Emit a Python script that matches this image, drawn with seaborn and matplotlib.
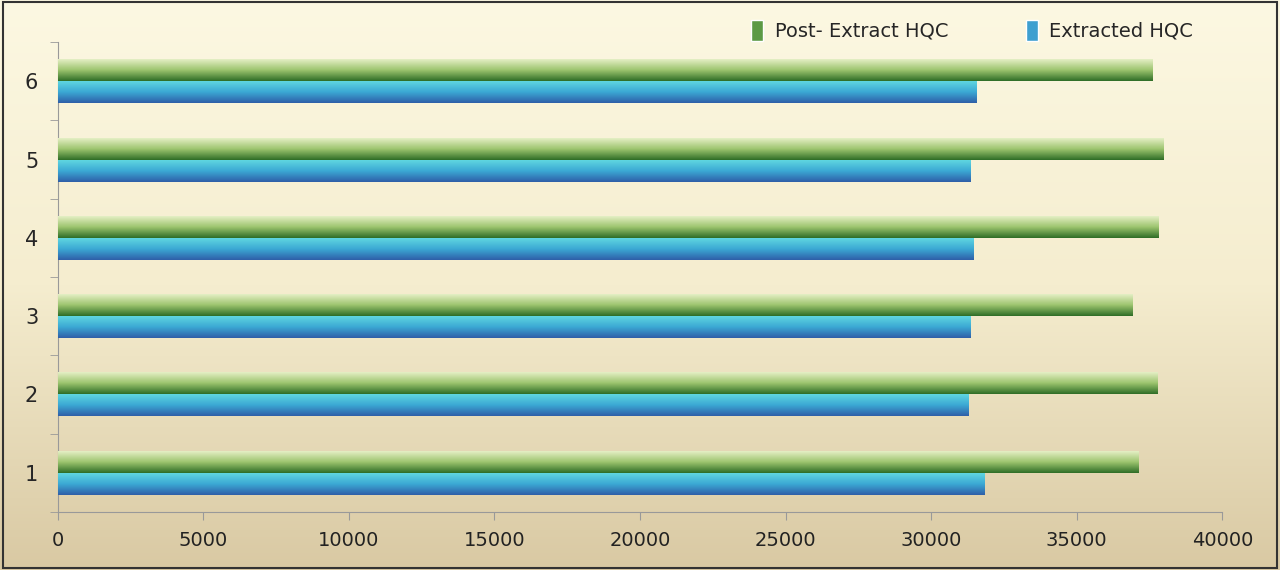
import numpy as np
import pandas as pd
import matplotlib
matplotlib.use("Agg")
import matplotlib.pyplot as plt
import seaborn as sns
from matplotlib.colors import LinearSegmentedColormap
from matplotlib.patches import Patch

categories = ["1", "2", "3", "4", "5", "6"]
post_extract = [37100, 37750, 36900, 37800, 37950, 37600]
extracted = [31800, 31250, 31350, 31450, 31350, 31550]
series = ["Post- Extract HQC", "Extracted HQC"]

df = pd.DataFrame({
    "cat": categories * 2,
    "val": post_extract + extracted,
    "series": [series[0]] * 6 + [series[1]] * 6,
})

sns.set_style("white")
plt.rcParams['font.family'] = ['DejaVu Sans']
fig = plt.figure(figsize=(12.8, 5.7), dpi=100)
fig.patch.set_facecolor("#FBF6DE")
ax = fig.add_axes([0.045, 0.102, 0.91, 0.824])
ax.set_facecolor("none")

palette = {series[0]: "#4E8A3A", series[1]: "#3E8FC4"}
sns.barplot(data=df, y="cat", x="val", hue="series", order=categories[::-1],
            hue_order=series, palette=palette, orient="h", width=0.56,
            ax=ax, legend=True, zorder=3)

bg = LinearSegmentedColormap.from_list("bg", ["#FCF8E2", "#F5EDCF", "#D9C9A3"])
fig_bg = fig.add_axes([0, 0, 1, 1], zorder=-1)
fig_bg.imshow(np.linspace(0, 1, 256)[:, None], aspect="auto", cmap=bg,
              extent=[0, 1, 0, 1], origin="upper")
fig_bg.axis("off")
fig.add_artist(plt.Rectangle((0.002, 0.003), 0.996, 0.994, transform=fig.transFigure,
                             fill=False, edgecolor="#333333", lw=1.5))

gcm = LinearSegmentedColormap.from_list("g", ["#E4EFC4", "#9CC46E", "#2F6E27"])
bcm = LinearSegmentedColormap.from_list("b", ["#5FD6E0", "#3BA8D4", "#2F5FA8"])
patches = list(ax.patches)
n = len(categories)
for i, p in enumerate(patches[:2 * n]):
    cm = gcm if i < n else bcm
    x0, y0 = p.get_x(), p.get_y()
    w, h = p.get_width(), p.get_height()
    ax.imshow(np.linspace(0, 1, 64)[:, None], cmap=cm, aspect="auto",
              extent=[x0, x0 + w, y0 + h, y0], origin="upper", zorder=4)
    p.set_visible(False)

ax.set_xlim(0, 40000)
ax.set_ylim(n - 0.5, -0.5)
ax.set_xticks(np.arange(0, 40001, 5000))
ax.tick_params(axis="x", labelsize=14, colors="#222222", length=6, direction="out", bottom=True, pad=8)
ax.tick_params(axis="y", labelsize=15, length=0, pad=14)
ax.set_yticks(np.arange(-0.5, n, 1), minor=True)
ax.tick_params(axis="y", which="minor", length=6, color="#999999", left=True)
ax.set_xlabel("")
ax.set_ylabel("")
for s in ["top", "right"]:
    ax.spines[s].set_visible(False)
for s in ["left", "bottom"]:
    ax.spines[s].set_color("#999999")
ax.tick_params(axis="x", color="#999999")

handles = [Patch(facecolor="#5C9A45"), Patch(facecolor="#3E9FD0")]
ax.legend(handles, series, loc="upper right", bbox_to_anchor=(0.99, 1.085), ncol=2,
          frameon=False, fontsize=14, handlelength=0.6, handleheight=1.3,
          columnspacing=4, handletextpad=0.6)

fig.savefig("out.png", dpi=100, facecolor=fig.get_facecolor())
